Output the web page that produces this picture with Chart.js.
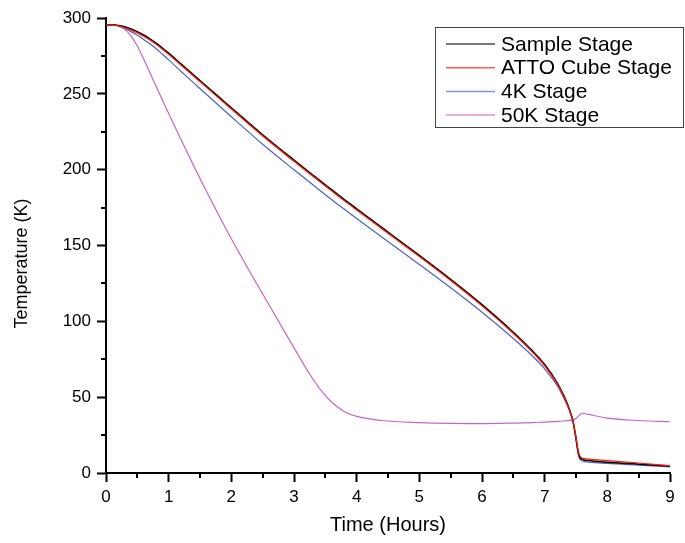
<!DOCTYPE html>
<html>
<head>
<meta charset="utf-8">
<title>Cooldown</title>
<script src="https://cdn.jsdelivr.net/npm/chart.js@4/dist/chart.umd.min.js"></script>
<style>
  html, body { margin: 0; padding: 0; background: #fff; }
  #chart { display: block; }
</style>
</head>
<body>
<canvas id="chart" width="685" height="543"></canvas>
<script>
// time axis (hours), shared by all four stages
const hours = [0, 0.1, 0.2, 0.3, 0.4, 0.5, 0.6, 0.7, 0.8, 0.9,
  1.0, 1.2, 1.4, 1.6, 1.8, 2.0,
  2.5, 3.0, 3.3, 3.5, 3.6, 3.7, 3.8, 4.0, 4.4,
  5.0, 5.5, 6.0, 6.5, 6.8, 7.0, 7.2, 7.3, 7.4, 7.45,
  7.5, 7.53, 7.56, 7.6, 7.7, 8.0, 8.5, 9.0];

const sampleStage = [295.5, 295.5, 295.1, 294.2, 292.8, 291, 288.8, 286.3, 283.4, 280.2,
  276.8, 269.6, 262.4, 255.2, 248, 240.8,
  223, 206.3, 196.5, 190, 186.8, 183.6, 180.4, 174.2, 161.9,
  143.5, 127.7, 111, 92.8, 80.7, 71.5, 59.5, 51.5, 41.5, 34.5,
  23, 15, 10.5, 9, 8.2, 7.1, 5.8, 4.5];

const attoCubeStage = [295.5, 295.5, 294.8, 293.6, 292, 290.2, 288, 285.5, 282.6, 279.4,
  276, 268.8, 261.6, 254.4, 247.2, 240,
  222.2, 205.5, 195.7, 189.2, 186, 182.8, 179.6, 173.4, 161.1,
  142.7, 126.9, 110.2, 92, 79.9, 70.7, 58.8, 50.9, 41, 34.8,
  23.5, 15.8, 11.3, 9.9, 9.2, 8.2, 6.6, 4.8];

const stage4K = [295.5, 295.5, 294.7, 293.1, 291, 288.6, 285.9, 283, 279.7, 276.1,
  272.4, 264.7, 257.2, 249.7, 242.3, 234.9,
  216.8, 199.9, 190, 183.5, 180.3, 177.1, 174, 167.8, 155.6,
  137.5, 122.1, 106, 88.7, 77.3, 68.7, 57.5, 50, 40.6, 34,
  22, 13.5, 9.3, 7.9, 7.2, 6.3, 5.2, 4.1];

const stage50K = [295.5, 295.5, 294.8, 292.5, 288, 281.5, 273, 264, 255, 246,
  237, 219.5, 202.5, 186, 170, 154.5,
  118, 82.5, 62, 51, 46.8, 43.3, 40.6, 37.3, 34.6,
  33.2, 32.7, 32.6, 32.9, 33.2, 33.6, 34, 34.3, 34.7, 35,
  36, 37, 38.3, 39.4, 38.6, 36.2, 34.6, 33.8];

const seriesNames = ["Sample Stage", "ATTO Cube Stage", "4K Stage", "50K Stage"];
const seriesColors = ["#000000", "#ff1a00", "#4a64c8", "#c864c8"];
const yTitle = "Temperature (K)";

function toPoints(values) {
  return values.map((v, i) => ({ x: hours[i], y: v }));
}

Chart.defaults.font.family = "'Liberation Sans', Arial, sans-serif";
Chart.defaults.color = "#000";

// small outward ticks halfway between the labelled ones
const minorTicks = {
  id: "minorTicks",
  afterDraw(chart) {
    const { ctx, chartArea, scales } = chart;
    ctx.save();
    ctx.strokeStyle = "#000";
    ctx.lineWidth = 2;
    ctx.beginPath();
    for (let v = 0.5; v < 9; v += 1) {
      const px = Math.round(scales.x.getPixelForValue(v));
      ctx.moveTo(px, chartArea.bottom);
      ctx.lineTo(px, chartArea.bottom + 5);
    }
    for (let v = 25; v < 300; v += 50) {
      const py = Math.round(scales.y.getPixelForValue(v));
      ctx.moveTo(chartArea.left, py);
      ctx.lineTo(chartArea.left - 5, py);
    }
    ctx.stroke();
    ctx.restore();
  },
};

// y axis title, sits a bit below the middle of the axis like the original
const yAxisTitle = {
  id: "yAxisTitle",
  afterDraw(chart) {
    const { ctx, chartArea } = chart;
    ctx.save();
    ctx.translate(22, (chartArea.top + chartArea.bottom) / 2 + 18);
    ctx.rotate(-Math.PI / 2);
    ctx.font = "18px 'Liberation Sans', Arial, sans-serif";
    ctx.fillStyle = "#000";
    ctx.textAlign = "center";
    ctx.textBaseline = "middle";
    ctx.fillText(yTitle, 0, 0);
    ctx.restore();
  },
};

// boxed legend in the top right corner
const legendBox = {
  id: "legendBox",
  afterDraw(chart) {
    const ctx = chart.ctx;
    ctx.save();
    ctx.strokeStyle = "#444";
    ctx.lineWidth = 1;
    ctx.strokeRect(435.5, 27.5, 248, 100);
    ctx.font = "21px 'Liberation Sans', Arial, sans-serif";
    ctx.textBaseline = "middle";
    ctx.fillStyle = "#000";
    chart.data.datasets.forEach((ds, i) => {
      const y = 44 + i * 23.7;
      ctx.strokeStyle = ds.borderColor;
      ctx.globalAlpha = 0.7;
      ctx.lineWidth = 1.5;
      ctx.beginPath();
      ctx.moveTo(446, y);
      ctx.lineTo(495, y);
      ctx.stroke();
      ctx.globalAlpha = 1;
      ctx.fillText(ds.label, 501, y + 1);
    });
    ctx.restore();
  },
};

const ctx = document.getElementById("chart").getContext("2d");
const cooldownChart = new Chart(ctx, {
  type: "line",
  data: {
    datasets: [sampleStage, attoCubeStage, stage4K, stage50K].map((values, i) => ({
      label: seriesNames[i],
      data: toPoints(values),
      borderColor: seriesColors[i],
      borderWidth: i === 0 ? 1.5 : 1.2,
      pointRadius: 0,
      cubicInterpolationMode: "monotone",
      order: [1, 0, 2, 3][i],
    })),
  },
  options: {
    responsive: false,
    animation: false,
    layout: { padding: { top: 18, right: 15, left: 0, bottom: 0 } },
    plugins: {
      legend: { display: false },
      tooltip: { enabled: false },
    },
    scales: {
      x: {
        type: "linear",
        min: 0,
        max: 9,
        ticks: { stepSize: 1, font: { size: 17 }, padding: 5, maxRotation: 0 },
        grid: { drawOnChartArea: false, tickLength: 9, tickWidth: 2, tickColor: "#000" },
        border: { color: "#000", width: 2 },
        title: { display: true, text: "Time (Hours)", font: { size: 20 }, padding: { top: 6, bottom: 6 } },
        afterFit: (scale) => { scale.height = 70; },
      },
      y: {
        min: 0,
        max: 300,
        ticks: { stepSize: 50, font: { size: 17 }, padding: 6 },
        grid: { drawOnChartArea: false, tickLength: 9, tickWidth: 2, tickColor: "#000" },
        border: { color: "#000", width: 2 },
        title: { display: false },
        afterFit: (scale) => { scale.width = 106; },
      },
    },
  },
  plugins: [minorTicks, yAxisTitle, legendBox],
});
</script>
</body>
</html>
